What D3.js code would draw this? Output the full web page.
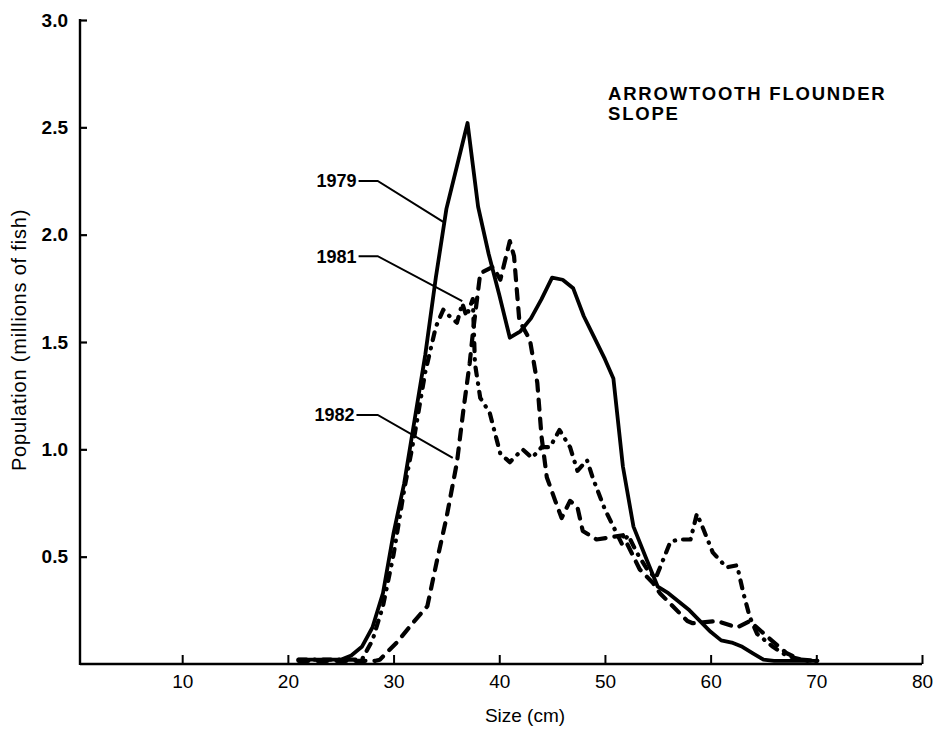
<!DOCTYPE html>
<html>
<head>
<meta charset="utf-8">
<script src="https://cdn.jsdelivr.net/npm/d3@7"></script>
<style>
  html, body { margin: 0; padding: 0; background: #fff; }
  svg { display: block; }
  text { font-family: "Liberation Sans", Arial, Helvetica, sans-serif; fill: #000; }
</style>
</head>
<body>
<svg id="chart" width="937" height="733"></svg>
<script>
// ---------------- data ----------------
const xTicks = [10, 20, 30, 40, 50, 60, 70, 80];
const yTicks = [0.5, 1.0, 1.5, 2.0, 2.5, 3.0];

const sizes1979 = [21, 25, 26, 27, 28, 29, 30, 31, 32, 33, 34, 35, 36, 37, 38, 39, 40, 41, 42, 43, 44, 45, 46, 47, 48, 49, 50, 50.8, 51.7, 52.7, 54, 55, 56, 57, 58, 59, 60, 61, 62, 63, 64, 65, 66, 70];
const pop1979   = [0.02, 0.02, 0.04, 0.08, 0.17, 0.33, 0.61, 0.84, 1.14, 1.44, 1.80, 2.12, 2.32, 2.52, 2.13, 1.91, 1.72, 1.52, 1.55, 1.61, 1.70, 1.80, 1.79, 1.75, 1.62, 1.52, 1.42, 1.33, 0.92, 0.64, 0.48, 0.36, 0.33, 0.29, 0.25, 0.20, 0.15, 0.11, 0.10, 0.08, 0.05, 0.02, 0.015, 0.015];

const sizes1981 = [21, 27, 28, 29, 30, 31, 32, 33, 34, 34.7, 35.3, 36, 36.5, 36.9, 37.5, 37.7, 38.2, 39.1, 40.1, 41, 42.2, 43.1, 44, 44.8, 45.7, 46.7, 47.4, 48.3, 48.9, 50, 50.8, 51.6, 52.2, 53, 54, 54.8, 55.3, 56.2, 57, 58.1, 58.7, 59.3, 60.2, 61.5, 62.5, 63.1, 63.7, 64.4, 65.9, 66.8, 67.8, 69, 70.1];
const pop1981   = [0.02, 0.02, 0.11, 0.27, 0.51, 0.81, 1.07, 1.36, 1.57, 1.65, 1.62, 1.59, 1.68, 1.62, 1.70, 1.40, 1.24, 1.17, 0.98, 0.94, 1.00, 0.96, 1.01, 1.01, 1.09, 1.01, 0.90, 0.95, 0.86, 0.72, 0.64, 0.56, 0.60, 0.52, 0.44, 0.40, 0.46, 0.57, 0.58, 0.58, 0.70, 0.63, 0.52, 0.45, 0.46, 0.33, 0.22, 0.14, 0.08, 0.05, 0.03, 0.015, 0.015];

const sizes1982 = [21, 28.3, 28.7, 30.3, 31.8, 33.2, 34.1, 35, 36, 36.6, 37.2, 37.5, 38.2, 39.4, 40.1, 41, 41.4, 41.9, 42.9, 43.6, 44, 44.5, 45.3, 45.9, 46.7, 47.4, 47.9, 49.2, 50.5, 51.7, 52.4, 53.3, 54.5, 55.2, 56.4, 57.8, 58.3, 60.6, 62.5, 63.7, 65.3, 67.2, 68.5, 70.1];
const pop1982   = [0.015, 0.015, 0.02, 0.10, 0.19, 0.27, 0.48, 0.68, 0.94, 1.18, 1.40, 1.54, 1.82, 1.85, 1.79, 1.97, 1.90, 1.60, 1.51, 1.31, 1.06, 0.87, 0.76, 0.68, 0.76, 0.73, 0.62, 0.58, 0.59, 0.60, 0.53, 0.44, 0.38, 0.33, 0.27, 0.20, 0.19, 0.20, 0.17, 0.20, 0.13, 0.05, 0.02, 0.015];

const years = ["1979", "1981", "1982"];
const titleLines = ["ARROWTOOTH FLOUNDER", "SLOPE"];
const xLabel = "Size (cm)";
const yLabel = "Population (millions of fish)";

// ---------------- layout ----------------
const svg = d3.select("#chart");
const x = d3.scaleLinear().domain([0, 80]).range([76.5, 922]);
const y = d3.scaleLinear().domain([0, 3]).range([664, 20]);
const axisX = 80;

const series = [
  { year: years[0], sizes: sizes1979, pop: pop1979, dash: null,          width: 3.8 },
  { year: years[1], sizes: sizes1981, pop: pop1981, dash: "8,8,0.5,8",   width: 4.2 },
  { year: years[2], sizes: sizes1982, pop: pop1982, dash: "10,9",        width: 4.2 }
];

// annotation anchors in data units
const notes = [
  { text: years[0], lx: 26.5, ly: 2.25, ex: 28.5, tx: 34.7, ty: 2.06 },
  { text: years[1], lx: 26.5, ly: 1.90, ex: 28.5, tx: 36.5, ty: 1.69 },
  { text: years[2], lx: 26.3, ly: 1.16, ex: 28.5, tx: 35.6, ty: 0.96 }
];

// axes
const gx = svg.append("g").attr("transform", `translate(0,${y(0)})`)
  .call(d3.axisBottom(x).tickValues(xTicks).tickSize(-9).tickSizeOuter(0).tickPadding(11).tickFormat(d => d));
gx.select(".domain").remove();
gx.selectAll(".tick line").attr("stroke", "#000").attr("stroke-width", 2);
gx.selectAll(".tick text").style("font-size", "19px").attr("fill", "#000");

const gy = svg.append("g").attr("transform", `translate(${axisX},0)`)
  .call(d3.axisLeft(y).tickValues(yTicks).tickSize(-7).tickSizeOuter(0).tickPadding(12).tickFormat(d3.format(".1f")));
gy.select(".domain").remove();
gy.selectAll(".tick line").attr("stroke", "#000").attr("stroke-width", 2.2);
gy.selectAll(".tick text").style("font-size", "19px").style("font-weight", "bold").attr("fill", "#000");

// axis lines
svg.append("line").attr("x1", axisX).attr("x2", x(80)).attr("y1", y(0)).attr("y2", y(0))
  .attr("stroke", "#000").attr("stroke-width", 2.6);
svg.append("line").attr("x1", axisX).attr("x2", axisX).attr("y1", y(0) + 1).attr("y2", y(3) - 1)
  .attr("stroke", "#000").attr("stroke-width", 2.4);

// series
const line = d3.line().x(d => x(d[0])).y(d => y(d[1]));
series.forEach(s => {
  const pts = s.sizes.map((v, i) => [v, s.pop[i]]);
  svg.append("path").datum(pts)
    .attr("d", line)
    .attr("fill", "none")
    .attr("stroke", "#000")
    .attr("stroke-width", s.width)
    .attr("stroke-linejoin", "round")
    .attr("stroke-linecap", "round")
    .attr("stroke-dasharray", s.dash);
});

// annotations
notes.forEach(n => {
  svg.append("text").attr("x", x(n.lx)).attr("y", y(n.ly)).attr("dy", "0.36em")
    .attr("text-anchor", "end").style("font-size", "18px").style("font-weight", "bold")
    .text(n.text);
  svg.append("path")
    .attr("d", `M${x(n.lx) + 2},${y(n.ly)} L${x(n.ex)},${y(n.ly)} L${x(n.tx)},${y(n.ty)}`)
    .attr("fill", "none").attr("stroke", "#000").attr("stroke-width", 2);
});

// title
svg.append("text").attr("x", 608).attr("y", 100)
  .style("font-size", "18.5px").style("font-weight", "bold").style("letter-spacing", "1.8px")
  .text(titleLines[0]);
svg.append("text").attr("x", 608).attr("y", 120)
  .style("font-size", "18.5px").style("font-weight", "bold").style("letter-spacing", "1.8px")
  .text(titleLines[1]);

// axis titles
svg.append("text").attr("x", 525).attr("y", 722).attr("text-anchor", "middle")
  .style("font-size", "19px").text(xLabel);
svg.append("text").attr("transform", `translate(26,340) rotate(-90)`).attr("text-anchor", "middle")
  .style("font-size", "20px").style("letter-spacing", "0.8px").text(yLabel);
</script>
</body>
</html>
